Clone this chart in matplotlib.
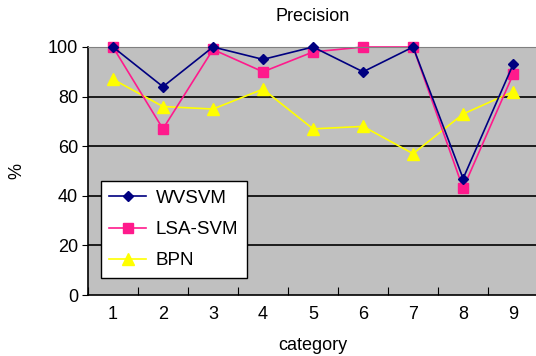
import numpy as np
import matplotlib.pyplot as plt

plt.rcParams['font.family'] = ['Liberation Sans', 'DejaVu Sans']

# -----------------------------
# Data
# -----------------------------
categories = [1, 2, 3, 4, 5, 6, 7, 8, 9]
wvsvm = [100, 84, 100, 95, 100, 90, 100, 47, 93]
lsa_svm = [100, 67, 99, 90, 98, 100, 100, 43, 89]
bpn = [87, 76, 75, 83, 67, 68, 57, 73, 82]
yticks = [0, 20, 40, 60, 80, 100]

# -----------------------------
# Plot
# -----------------------------
fig = plt.figure(figsize=(5.36, 3.56), dpi=100)
ax = fig.add_axes([0.164, 0.171, 0.84, 0.697])
ax.set_facecolor("#c0c0c0")

ax.plot(categories, wvsvm, color="#000080", marker="D", markersize=5.5, lw=1.2,
        label="WVSVM", clip_on=False, zorder=3)
ax.plot(categories, lsa_svm, color="#ff1a8c", marker="s", markersize=6.5, lw=1.2,
        label="LSA-SVM", clip_on=False, zorder=2.5)
ax.plot(categories, bpn, color="#ffff00", marker="^", markersize=8.5, lw=1.2,
        label="BPN", clip_on=False, zorder=2)

ax.set_xlim(0.5, 9.5)
ax.set_ylim(0, 100)
ax.set_yticks(yticks)
for y in yticks[1:-1]:
    ax.axhline(y, color="black", lw=1.2, zorder=0.5)

# x ticks between categories, labels centred on categories
ax.set_xticks(np.arange(0.5, 10, 1))
ax.set_xticklabels([])
ax.set_xticks(categories, minor=True)
ax.set_xticklabels([str(c) for c in categories], minor=True)
ax.tick_params(axis="x", which="minor", length=0, labelsize=13, pad=8)
ax.tick_params(axis="x", which="major", direction="in", length=6)
ax.tick_params(axis="y", direction="out", length=4, labelsize=13, pad=3)

for side in ["top", "right"]:
    ax.spines[side].set_color("#808080")
for side in ["left", "bottom"]:
    ax.spines[side].set_linewidth(1.2)

ax.set_title("Precision", fontsize=13, pad=19)
ax.set_xlabel("category", fontsize=13, labelpad=10)
ax.set_ylabel("%", fontsize=13, labelpad=16)

leg = ax.legend(loc="lower left", bbox_to_anchor=(0.028, 0.07), fontsize=13.5, frameon=True,
                fancybox=False, edgecolor="black", framealpha=1, borderpad=0.45,
                labelspacing=0.75, handlelength=2.0, handletextpad=0.5, borderaxespad=0)
leg.get_frame().set_linewidth(1.0)

plt.savefig("out.png", dpi=100)
